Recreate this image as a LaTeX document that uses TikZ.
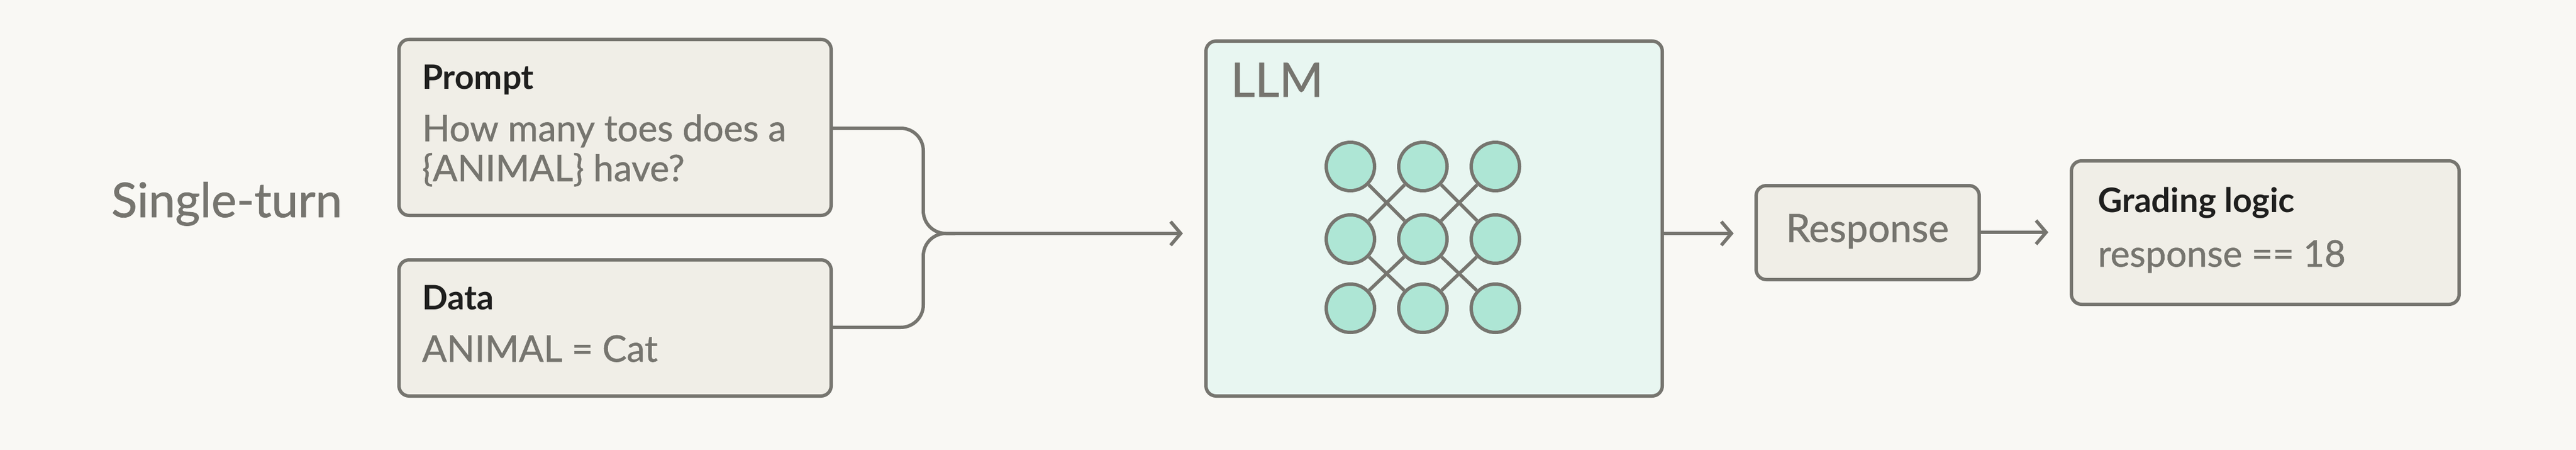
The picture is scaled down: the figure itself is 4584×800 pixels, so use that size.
\documentclass[tikz,border=0pt]{standalone}
\usepackage{fontspec}
\setmainfont{Lato}
\newfontface\medf{Lato}[FakeBold=0.9]
\definecolor{bg}{HTML}{F9F8F4}
\definecolor{boxf}{HTML}{F0EEE7}
\definecolor{edge}{HTML}{76756F}
\definecolor{llmf}{HTML}{E8F6F1}
\definecolor{neur}{HTML}{AEE6D5}
\definecolor{ink}{HTML}{1F1F1E}
\begin{document}
\begin{tikzpicture}[x=1pt,y=-1pt,
  box/.style={draw=edge,line width=6pt,fill=boxf,rounded corners=18pt},
  ttl/.style={anchor=base west,inner sep=0,text=ink,font=\bfseries\fontsize{60}{70}\selectfont},
  body/.style={anchor=base west,inner sep=0,text=edge,font=\medf\fontsize{65}{75}\selectfont},
  conn/.style={draw=edge,line width=6pt,rounded corners=40pt},
  arr/.style={draw=edge,line width=6pt,-{Straight Barb[length=18pt,width=42pt,line width=6pt]}},
  neuron/.style={circle,draw=edge,line width=6pt,fill=neur,minimum size=86pt,inner sep=0}]
\usetikzlibrary{arrows.meta}
\fill[bg] (0,0) rectangle (4584,800);
\useasboundingbox (0,0) rectangle (4584,800);
% boxes
\draw[box] (710,70) rectangle (1479,383);
\coordinate (pr) at (1479,228);
\draw[box] (710,462) rectangle (1479,704);
\coordinate (dr) at (1479,582);
\draw[box,fill=llmf] (2146,73) rectangle (2958,704);
\draw[box] (3125,330) rectangle (3522,497);
\draw[box] (3686,286) rectangle (4376,541);
\coordinate (llmr) at (2958,415);
\coordinate (resr) at (3522,413);
% texts
\node[anchor=base west,inner sep=0,text=edge,font=\medf\fontsize{85}{90}\selectfont] (st) at (198,386) {Single-turn};
\node[ttl] (pt) at (751,158) {Prompt};
\node[body] (pb1) at (751,251) {How many toes does a};
\node[body] (pb2) at (751,322) {\{ANIMAL\} have?};
\node[ttl] (dt) at (751,550) {Data};
\node[body] (db) at (751,643) {ANIMAL = Cat};
\node[anchor=base west,inner sep=0,text=edge,font=\medf\fontsize{84}{90}\selectfont] (lt) at (2190,172) {LLM};
\node[anchor=base,inner sep=0,text=edge,font=\medf\fontsize{69}{75}\selectfont] (rt) at (3323,430) {Response};
\node[ttl] (gt) at (3733,377) {Grading logic};
\node[body] (gb) at (3733,474) {response == 18};
% connectors
\coordinate (m) at (1700,415);
\coordinate (tip) at (2105,415);
\draw[conn] (pr) -- (1643,228) -- (1643,415) -- (m);
\draw[conn] (dr) -- (1643,582) -- (1643,415) -- (m);
\draw[arr] (m) -- (tip);
\draw[arr] (llmr) -- (3085,415);
\draw[arr] (resr) -- (3645,413);
% neurons
\foreach \i/\x in {1/2403,2/2532,3/2661}{
  \foreach \j/\y in {1/296,2/425,3/548}{
    \node[neuron] (n\i\j) at (\x,\y) {};}}
\foreach \a/\b in {n11/n22,n21/n12,n21/n32,n31/n22,n12/n23,n22/n13,n22/n33,n32/n23}
  \draw[edge,line width=6pt] (\a) -- (\b);
\end{tikzpicture}
\end{document}
